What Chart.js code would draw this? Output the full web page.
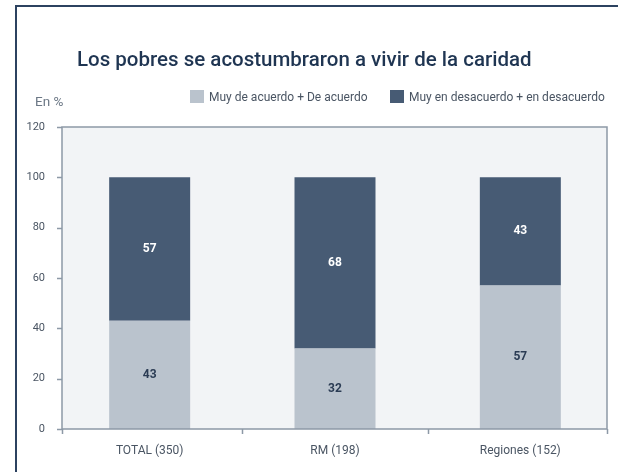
<!DOCTYPE html>
<html>
<head>
<meta charset="utf-8">
<script src="https://cdn.jsdelivr.net/npm/chart.js@4.4.1/dist/chart.umd.min.js"></script>
<style>
  html, body { margin: 0; padding: 0; background: #fff; }
  #wrap { width: 618px; height: 472px; position: relative; }
</style>
</head>
<body>
<div id="wrap"><canvas id="chart" width="618" height="472"></canvas></div>
<script>
// Data
const categories = ['TOTAL (350)', 'RM (198)', 'Regiones (152)'];
const agreeLabel = 'Muy de acuerdo + De acuerdo';
const disagreeLabel = 'Muy en desacuerdo + en desacuerdo';
const agreeValues = [43, 32, 57];
const disagreeValues = [57, 68, 43];
const yTicks = [0, 20, 40, 60, 80, 100, 120];

const FONT = 'Roboto, "DejaVu Sans", sans-serif';
const LIGHT = '#bac3cd';
const DARK = '#475b74';
const NAVY = '#1f3552';
const AXIS = '#8d99a6';
const TEXT = '#4a5563';

// plot box is drawn a little inside the category span
const BOX = { left: 62, right: 607 };

// Frame, title, legend, plot box, axis ticks and value labels
const decor = {
  id: 'decor',
  beforeDraw(chart) {
    const ctx = chart.ctx;
    const a = chart.chartArea;
    ctx.save();
    ctx.fillStyle = '#f2f4f6';
    ctx.fillRect(BOX.left, a.top, BOX.right - BOX.left, a.bottom - a.top);
    // outer frame
    ctx.strokeStyle = '#2c4260';
    ctx.lineWidth = 2;
    ctx.beginPath();
    ctx.moveTo(16, 472);
    ctx.lineTo(16, 6);
    ctx.lineTo(618, 6);
    ctx.stroke();
    ctx.restore();
  },
  afterDraw(chart) {
    const ctx = chart.ctx;
    const a = chart.chartArea;
    const xs = chart.scales.x;
    const ys = chart.scales.y;
    ctx.save();
    // plot box
    ctx.strokeStyle = AXIS;
    ctx.lineWidth = 1.5;
    ctx.strokeRect(BOX.left, a.top, BOX.right - BOX.left, a.bottom - a.top);

    // y tick marks
    ctx.beginPath();
    yTicks.forEach(v => {
      const y = Math.round(ys.getPixelForValue(v)) + 0.5;
      ctx.moveTo(BOX.left - 5, y);
      ctx.lineTo(BOX.left, y);
    });
    // x tick marks between categories and at the box corners
    const bx = [BOX.left, BOX.right];
    for (let i = 1; i < categories.length; i++) {
      bx.push((xs.getPixelForTick(i - 1) + xs.getPixelForTick(i)) / 2);
    }
    bx.forEach(x => {
      ctx.moveTo(Math.round(x) + 0.5, a.bottom);
      ctx.lineTo(Math.round(x) + 0.5, a.bottom + 5);
    });
    ctx.stroke();

    // title
    ctx.fillStyle = NAVY;
    ctx.font = '500 20.5px ' + FONT;
    ctx.textBaseline = 'alphabetic';
    ctx.textAlign = 'left';
    ctx.fillText('Los pobres se acostumbraron a vivir de la caridad', 77, 66);

    // unit
    ctx.fillStyle = '#6b7785';
    ctx.font = '13.5px ' + FONT;
    ctx.fillText('En %', 35, 106);

    // legend
    const items = [
      { x: 190, color: LIGHT, text: agreeLabel },
      { x: 390, color: DARK, text: disagreeLabel }
    ];
    ctx.font = '12px ' + FONT;
    items.forEach(it => {
      ctx.fillStyle = it.color;
      ctx.fillRect(it.x, 90, 14, 13);
      ctx.fillStyle = TEXT;
      ctx.fillText(it.text, it.x + 19, 101);
    });

    // value labels
    ctx.font = 'bold 12px ' + FONT;
    ctx.textAlign = 'center';
    ctx.textBaseline = 'middle';
    chart.data.datasets.forEach((ds, di) => {
      const meta = chart.getDatasetMeta(di);
      meta.data.forEach((bar, i) => {
        const cy = (bar.y + bar.base) / 2;
        ctx.fillStyle = di === 0 ? '#2b3c54' : '#ffffff';
        ctx.fillText(String(ds.data[i]), bar.x, cy);
      });
    });
    ctx.restore();
  }
};

new Chart(document.getElementById('chart'), {
  type: 'bar',
  data: {
    labels: categories,
    datasets: [
      { label: agreeLabel, data: agreeValues, backgroundColor: LIGHT, categoryPercentage: 1, barPercentage: 0.437 },
      { label: disagreeLabel, data: disagreeValues, backgroundColor: DARK, categoryPercentage: 1, barPercentage: 0.437 }
    ]
  },
  options: {
    responsive: false,
    animation: false,
    layout: { padding: { top: 127, right: 5, left: 0, bottom: 0 } },
    plugins: {
      legend: { display: false },
      title: { display: false },
      tooltip: { enabled: false }
    },
    scales: {
      x: {
        stacked: true,
        grid: { display: false },
        border: { display: false },
        ticks: { color: TEXT, font: { family: FONT, size: 12 }, padding: 7 },
        afterFit(s) { s.height = 43; }
      },
      y: {
        stacked: true,
        min: 0,
        max: 120,
        afterBuildTicks(s) { s.ticks = yTicks.map(v => ({ value: v })); },
        grid: { display: false },
        border: { display: false },
        ticks: { color: TEXT, font: { family: FONT, size: 11 }, padding: 4 },
        afterFit(s) { s.width = 57; }
      }
    }
  },
  plugins: [decor]
});
</script>
</body>
</html>
